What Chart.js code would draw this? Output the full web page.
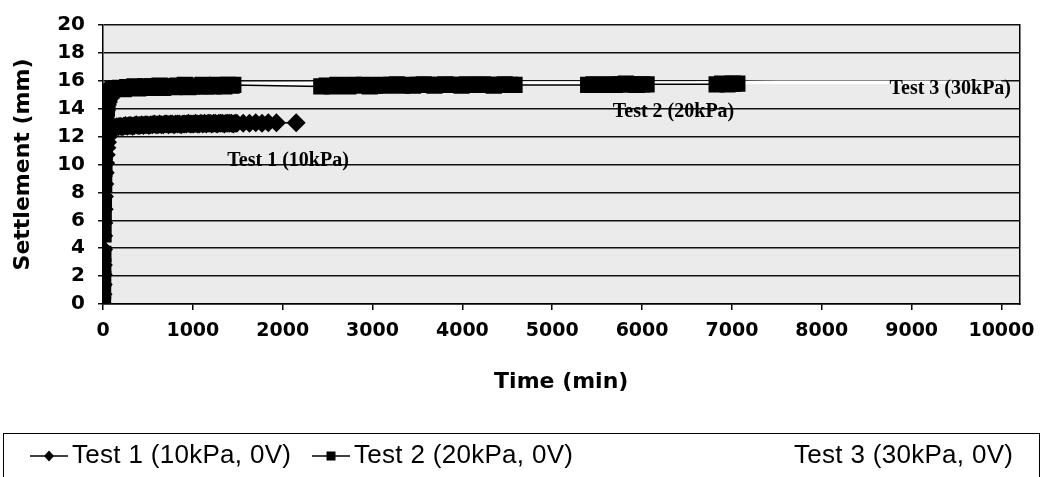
<!DOCTYPE html>
<html>
<head>
<meta charset="utf-8">
<title>Settlement against time</title>
<script src="https://cdn.jsdelivr.net/npm/chart.js@4.4.1/dist/chart.umd.min.js"></script>
<style>
  html, body { margin: 0; padding: 0; background: #ffffff; }
  #wrap { width: 1045px; height: 477px; position: relative; }
</style>
</head>
<body>
<div id="wrap"><canvas id="chart" width="1045" height="477"></canvas></div>
<script>
// Axis ticks
const timeTicks = [0, 1000, 2000, 3000, 4000, 5000, 6000, 7000, 8000, 9000, 10000];
const settlementTicks = [0, 2, 4, 6, 8, 10, 12, 14, 16, 18, 20];

// Test 1 (10 kPa, 0 V): time (min) and settlement (mm)
const test1Time = [
  0, 1, 2, 3, 4, 6, 8, 10, 13, 16, 20, 25, 30, 36, 43, 50, 60, 70, 80, 95, 110,
  130, 150, 170, 190, 210, 230, 250, 270, 290, 310, 330, 350, 370, 390, 410, 430, 450, 470, 490,
  510, 530, 550, 570, 590, 610, 630, 650, 670, 690, 710, 730, 750, 770, 790, 810, 830, 850,
  870, 890, 910, 930, 950, 970, 990, 1010, 1030, 1050, 1070, 1090, 1110, 1130, 1150, 1170,
  1190, 1210, 1230, 1250, 1270, 1290, 1310, 1330, 1350, 1370, 1390, 1410, 1430, 1450, 1470, 1490,
  1560, 1630, 1700, 1770, 1840, 1930, 2150
];
const test1Settlement = [
  0, 0.7, 1.4, 2.1, 2.8, 3.9, 4.9, 5.8, 6.8, 7.7, 8.6, 9.4, 10.1, 10.7, 11.2, 11.6, 12.0, 12.2, 12.4, 12.5, 12.6,
  12.65, 12.7, 12.7, 12.75, 12.7, 12.75, 12.8, 12.75, 12.8, 12.8, 12.75, 12.8, 12.85, 12.8, 12.8, 12.85, 12.8, 12.85, 12.85,
  12.8, 12.85, 12.85, 12.9, 12.85, 12.85, 12.9, 12.85, 12.85, 12.9, 12.9, 12.85, 12.9, 12.9, 12.85, 12.9, 12.9, 12.9,
  12.85, 12.9, 12.9, 12.9, 12.95, 12.9, 12.9, 12.9, 12.95, 12.9, 12.9, 12.95, 12.9, 12.95, 12.9, 12.95,
  12.95, 12.9, 12.95, 12.95, 12.9, 12.95, 12.95, 12.95, 12.9, 12.95, 12.95, 12.95, 12.95, 12.9, 12.95, 12.95,
  12.95, 12.95, 13.0, 12.95, 13.0, 13.0, 13.0
];

// Test 2 (20 kPa, 0 V)
const test2Time = [
  0, 1, 2, 3, 4, 6, 8, 10, 13, 16, 20, 25, 30, 36, 43, 50, 60, 70, 80, 95, 110,
  150, 190, 230, 270, 310, 350, 390, 430, 470, 510, 550, 590, 630, 670, 710, 750, 790,
  830, 870, 910, 950, 990, 1030, 1070, 1110, 1150, 1190, 1230, 1270, 1310, 1350, 1390, 1430, 1450,
  2430, 2490, 2550, 2610, 2670, 2730, 2790, 2850, 2910, 2970, 3030, 3090, 3150, 3210, 3270,
  3330, 3390, 3450, 3510, 3570, 3630, 3690, 3750, 3810, 3870, 3930, 3990, 4050, 4110, 4170,
  4230, 4290, 4350, 4410, 4470, 4530, 4580,
  5400, 5460, 5520, 5580, 5640, 5700, 5760, 5820, 5880, 5940, 6000, 6050,
  6830, 6890, 6950, 7010, 7060
];
const test2Settlement = [
  0, 0.9, 1.8, 2.7, 3.6, 5.0, 6.2, 7.3, 8.6, 9.7, 10.9, 12.0, 12.8, 13.5, 14.0, 14.4, 14.8, 15.0, 15.2, 15.3, 15.4,
  15.45, 15.5, 15.4, 15.55, 15.5, 15.6, 15.45, 15.55, 15.6, 15.5, 15.6, 15.55, 15.65, 15.5, 15.6, 15.6, 15.55,
  15.65, 15.6, 15.7, 15.55, 15.6, 15.65, 15.6, 15.7, 15.6, 15.65, 15.6, 15.7, 15.65, 15.6, 15.7, 15.65, 15.7,
  15.6, 15.65, 15.6, 15.7, 15.65, 15.6, 15.7, 15.65, 15.7, 15.6, 15.65, 15.7, 15.65, 15.7, 15.75,
  15.65, 15.7, 15.65, 15.7, 15.75, 15.7, 15.65, 15.7, 15.75, 15.7, 15.7, 15.65, 15.75, 15.7, 15.7,
  15.75, 15.7, 15.65, 15.7, 15.75, 15.7, 15.7,
  15.7, 15.75, 15.7, 15.7, 15.75, 15.7, 15.75, 15.8, 15.75, 15.7, 15.75, 15.75,
  15.75, 15.8, 15.75, 15.8, 15.8
];

// Test 3 (30 kPa, 0 V)
const test3Time = [0, 2, 5, 10, 20, 35, 60, 100, 500, 1500, 2500, 3500, 4500, 5500, 6500, 7500, 8500, 9500, 10000];
const test3Settlement = [0, 3.0, 6.5, 9.8, 12.6, 14.4, 15.3, 15.6, 15.7, 15.75, 15.8, 15.8, 15.85, 15.85, 15.85, 15.9, 15.9, 15.9, 15.9];

// Curve labels written inside the plot
const curveLabels = ['Test 1 (10kPa)', 'Test 2 (20kPa)', 'Test 3 (30kPa)'];
const curveLabelTime = [2060, 6350, 9430];
const curveLabelSettlement = [10.25, 13.8, 15.4];

const seriesNames = ['Test 1 (10kPa, 0V)', 'Test 2 (20kPa, 0V)', 'Test 3 (30kPa, 0V)'];

const toPoints = (xs, ys) => xs.map((x, i) => ({ x: x, y: ys[i] }));

const xTickFont = { family: 'DejaVu Sans', weight: 'bold', size: 19 };
const yTickFont = { family: 'DejaVu Sans', weight: 'bold', size: 20 };
const titleFont = { family: 'DejaVu Sans', weight: 'bold', size: 22 };

// Grey plot area behind the grid
const plotBackground = {
  id: 'plotBackground',
  beforeDraw(chart) {
    const { ctx, chartArea: a } = chart;
    ctx.save();
    ctx.fillStyle = '#ebebeb';
    ctx.fillRect(a.left, a.top, a.right - a.left, a.bottom - a.top);
    ctx.restore();
  }
};

// Curve names placed next to each curve, positioned through the scales
const curveNames = {
  id: 'curveNames',
  afterDatasetsDraw(chart) {
    const { ctx, scales } = chart;
    ctx.save();
    ctx.font = 'bold 20px "Liberation Serif", "Times New Roman", serif';
    ctx.fillStyle = '#000';
    ctx.textAlign = 'center';
    ctx.textBaseline = 'middle';
    curveLabels.forEach((text, i) => {
      ctx.fillText(text, scales.x.getPixelForValue(curveLabelTime[i]), scales.y.getPixelForValue(curveLabelSettlement[i]));
    });
    ctx.restore();
  }
};

// Boxed legend along the bottom: line sample with marker, then the series name
const legendItemX = [30, 312, 752];
const boxedLegend = {
  id: 'boxedLegend',
  afterDraw(chart) {
    const { ctx } = chart;
    const cy = 456;
    ctx.save();
    ctx.strokeStyle = '#000';
    ctx.lineWidth = 1;
    ctx.strokeRect(3.5, 433.5, 1036, 60);
    chart.data.datasets.forEach((ds, i) => {
      const x0 = legendItemX[i];
      ctx.strokeStyle = ds.borderColor;
      ctx.lineWidth = 1.5;
      ctx.beginPath();
      ctx.moveTo(x0, cy);
      ctx.lineTo(x0 + 38, cy);
      ctx.stroke();
      const mx = x0 + 19;
      ctx.fillStyle = ds.backgroundColor;
      if (ds.pointStyle === 'rectRot' && ds.pointRadius > 0) {
        ctx.beginPath();
        ctx.moveTo(mx, cy - 5.5);
        ctx.lineTo(mx + 5, cy);
        ctx.lineTo(mx, cy + 5.5);
        ctx.lineTo(mx - 5, cy);
        ctx.closePath();
        ctx.fill();
      } else if (ds.pointStyle === 'rect' && ds.pointRadius > 0) {
        ctx.fillRect(mx - 4.5, cy - 4.5, 9, 9);
      }
      ctx.fillStyle = '#000';
      ctx.font = '26px "Liberation Sans", Arial, sans-serif';
      ctx.letterSpacing = '0.3px';
      ctx.textAlign = 'left';
      ctx.textBaseline = 'middle';
      ctx.fillText(ds.label, x0 + 42, cy);
      ctx.letterSpacing = '0px';
    });
    ctx.restore();
  }
};

new Chart(document.getElementById('chart'), {
  type: 'line',
  data: {
    datasets: [
      {
        label: seriesNames[0],
        data: toPoints(test1Time, test1Settlement),
        borderColor: '#000000',
        backgroundColor: '#000000',
        borderWidth: 1.5,
        pointStyle: 'rectRot',
        pointRadius: 9.5,
        pointHoverRadius: 9.5,
        pointBorderWidth: 0,
        tension: 0
      },
      {
        label: seriesNames[1],
        data: toPoints(test2Time, test2Settlement),
        borderColor: '#000000',
        backgroundColor: '#000000',
        borderWidth: 1.5,
        pointStyle: 'rect',
        pointRadius: 11.5,
        pointHoverRadius: 11.5,
        pointBorderWidth: 0,
        tension: 0
      },
      {
        label: seriesNames[2],
        data: toPoints(test3Time, test3Settlement),
        borderColor: '#ffffff',
        backgroundColor: '#ffffff',
        borderWidth: 3.5,
        pointStyle: 'triangle',
        pointRadius: 0,
        pointHoverRadius: 0,
        tension: 0
      }
    ]
  },
  options: {
    responsive: false,
    animation: false,
    events: [],
    layout: { padding: { top: 21, left: 0, right: 0, bottom: 57 } },
    plugins: {
      legend: { display: false },
      tooltip: { enabled: false }
    },
    scales: {
      x: {
        type: 'linear',
        min: 0,
        max: 10200,
        afterBuildTicks: s => { s.ticks = timeTicks.map(v => ({ value: v })); },
        afterFit: s => { s.height = 116; },
        grid: { drawOnChartArea: false, drawTicks: true, tickLength: 6, color: '#000', lineWidth: 1.5 },
        border: { display: true, color: '#000', width: 1.5 },
        ticks: { color: '#000', padding: 10, font: xTickFont, maxRotation: 0, autoSkip: false, callback: v => String(v) },
        title: { display: true, text: 'Time (min)', color: '#000', font: titleFont, padding: { top: 0, bottom: 25 } }
      },
      y: {
        type: 'linear',
        min: 0,
        max: 20,
        afterBuildTicks: s => { s.ticks = settlementTicks.map(v => ({ value: v })); },
        afterFit: s => { s.width = 103; },
        grid: { color: '#111', lineWidth: 1.5, drawTicks: true, tickLength: 5 },
        border: { display: true, color: '#000', width: 1.5 },
        ticks: { color: '#000', padding: 13, font: yTickFont, callback: v => String(v) },
        title: { display: true, text: 'Settlement (mm)', color: '#000', font: titleFont, padding: { top: 10, bottom: 0 } }
      },
      frameRight: {
        type: 'linear',
        position: 'right',
        min: 0,
        max: 20,
        afterFit: s => { s.width = 24; },
        ticks: { display: false },
        grid: { drawOnChartArea: false, drawTicks: false },
        border: { display: true, color: '#000', width: 1.5 }
      }
    }
  },
  plugins: [plotBackground, curveNames, boxedLegend]
});
</script>
</body>
</html>
